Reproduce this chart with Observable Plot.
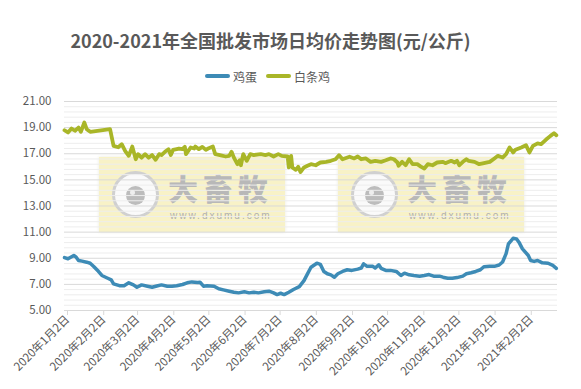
<!DOCTYPE html>
<html><head><meta charset="utf-8">
<script src="https://cdn.jsdelivr.net/npm/d3@7"></script>
<script src="https://cdn.jsdelivr.net/npm/@observablehq/plot@0.6"></script>
<style>
body{margin:0;background:#fff;}
#wrap{position:relative;width:581px;height:389px;overflow:hidden;font-family:"Noto Sans CJK SC","Noto Sans",sans-serif;background:#fff;}
#title{position:absolute;left:0;width:541px;top:28px;line-height:24px;text-align:center;font-size:18px;font-weight:bold;color:#595959;white-space:nowrap;}
#legend{position:absolute;left:205px;top:67px;height:18px;display:flex;align-items:center;font-size:12px;color:#595959;white-space:nowrap;}
.sw{display:inline-block;width:25px;height:4px;border-radius:2px;margin-right:3px;}
.item{display:flex;align-items:center;margin-right:9px;}
.wm{position:absolute;width:186px;height:75px;background:rgba(246,238,180,0.75);box-shadow:0 0 3px rgba(220,220,200,0.6);}
.ring{position:absolute;left:13px;top:14px;width:47px;height:47px;box-sizing:border-box;border:3px solid #d0d0d0;border-radius:50%;background:#fafafa;}
.dot{position:absolute;left:11px;top:12px;width:19px;height:19px;border-radius:50%;background:#bcbcbc;}
.hl{position:absolute;left:4px;top:4px;width:5px;height:5px;border-radius:50%;background:#eee;}
.big{position:absolute;left:69px;top:15px;font-size:30px;line-height:30px;height:30px;font-weight:900;letter-spacing:5px;color:#b8b8b8;white-space:nowrap;}
.url{position:absolute;left:71px;top:53px;font-family:"Liberation Sans",Arial,sans-serif;font-size:10px;line-height:12px;letter-spacing:2px;color:#b0b0b0;white-space:nowrap;}
#chart{position:absolute;left:0;top:0;}
</style></head>
<body>
<div id="wrap">
  <div class="wm" style="left:99px;top:157px"><div class="ring"><div class="dot"><div class="hl"></div></div></div><div class="big">大畜牧</div><div class="url">www.dxumu.com</div></div>
  <div class="wm" style="left:338px;top:157px"><div class="ring"><div class="dot"><div class="hl"></div></div></div><div class="big">大畜牧</div><div class="url">www.dxumu.com</div></div>
  <div id="chart"></div>
  <div id="title"></div>
  <div id="legend"></div>
</div>
<script>
const titleText = "2020-2021年全国批发市场日均价走势图(元/公斤)";
const seriesNames = ["鸡蛋", "白条鸡"];
const seriesColors = ["#3d8bb6", "#a9b628"];

const yTicks = [5, 7, 9, 11, 13, 15, 17, 19, 21];
const xTicks = ["2020-01-02","2020-02-02","2020-03-02","2020-04-02","2020-05-02","2020-06-02","2020-07-02","2020-08-02","2020-09-02","2020-10-02","2020-11-02","2020-12-02","2021-01-02","2021-02-02"];
const xTickLabels = ["2020年1月2日","2020年2月2日","2020年3月2日","2020年4月2日","2020年5月2日","2020年6月2日","2020年7月2日","2020年8月2日","2020年9月2日","2020年10月2日","2020年11月2日","2020年12月2日","2021年1月2日","2021年2月2日"];

const eggDates = ["2020-01-02","2020-01-05","2020-01-10","2020-01-12","2020-01-14","2020-01-17","2020-01-21","2020-01-24","2020-01-27","2020-01-31","2020-02-03","2020-02-08","2020-02-11","2020-02-13","2020-02-18","2020-02-22","2020-02-26","2020-03-01","2020-03-04","2020-03-08","2020-03-13","2020-03-17","2020-03-21","2020-03-25","2020-03-30","2020-04-03","2020-04-07","2020-04-12","2020-04-16","2020-04-20","2020-04-25","2020-04-27","2020-04-30","2020-05-03","2020-05-09","2020-05-13","2020-05-17","2020-05-22","2020-05-26","2020-05-30","2020-06-04","2020-06-08","2020-06-12","2020-06-16","2020-06-21","2020-06-25","2020-06-29","2020-07-02","2020-07-05","2020-07-08","2020-07-12","2020-07-16","2020-07-21","2020-07-25","2020-07-28","2020-07-31","2020-08-05","2020-08-08","2020-08-11","2020-08-14","2020-08-17","2020-08-20","2020-08-23","2020-08-27","2020-08-31","2020-09-04","2020-09-09","2020-09-12","2020-09-14","2020-09-17","2020-09-22","2020-09-24","2020-09-27","2020-09-29","2020-10-03","2020-10-07","2020-10-12","2020-10-16","2020-10-19","2020-10-23","2020-10-27","2020-11-01","2020-11-05","2020-11-09","2020-11-13","2020-11-18","2020-11-21","2020-11-25","2020-11-29","2020-12-03","2020-12-08","2020-12-11","2020-12-15","2020-12-19","2020-12-23","2020-12-26","2020-12-31","2021-01-04","2021-01-08","2021-01-11","2021-01-14","2021-01-16","2021-01-20","2021-01-23","2021-01-25","2021-01-28","2021-02-02","2021-02-04","2021-02-07","2021-02-10","2021-02-14","2021-02-19","2021-02-23","2021-02-26"];
const eggValues = [9.05,8.96,9.21,9.08,8.83,8.78,8.70,8.62,8.37,8.00,7.68,7.47,7.35,7.04,6.90,6.90,7.12,6.96,6.78,6.96,6.86,6.78,6.88,6.96,6.86,6.86,6.90,6.99,7.12,7.19,7.14,7.16,6.86,6.90,6.86,6.66,6.58,6.48,6.40,6.35,6.43,6.35,6.40,6.35,6.43,6.48,6.35,6.22,6.32,6.22,6.40,6.61,6.83,7.29,7.80,8.31,8.62,8.53,7.99,7.81,7.73,7.55,7.81,7.99,8.12,8.07,8.17,8.25,8.57,8.38,8.38,8.25,8.50,8.23,8.07,8.07,7.99,7.68,7.86,7.73,7.68,7.63,7.68,7.75,7.63,7.63,7.55,7.47,7.47,7.52,7.63,7.81,7.89,7.99,8.12,8.35,8.38,8.38,8.48,8.71,9.35,10.10,10.53,10.48,10.23,9.72,9.21,8.83,8.76,8.83,8.65,8.62,8.45,8.23];

const chickenDates = ["2020-01-02","2020-01-05","2020-01-08","2020-01-11","2020-01-14","2020-01-16","2020-01-19","2020-01-21","2020-01-24","2020-02-10","2020-02-13","2020-02-17","2020-02-20","2020-02-23","2020-02-26","2020-02-29","2020-03-03","2020-03-05","2020-03-08","2020-03-11","2020-03-14","2020-03-17","2020-03-20","2020-03-23","2020-03-25","2020-03-28","2020-03-31","2020-04-02","2020-04-04","2020-04-09","2020-04-12","2020-04-14","2020-04-15","2020-04-19","2020-04-22","2020-04-23","2020-04-26","2020-04-29","2020-05-02","2020-05-04","2020-05-08","2020-05-10","2020-05-14","2020-05-19","2020-05-22","2020-05-24","2020-05-26","2020-05-29","2020-05-31","2020-06-01","2020-06-03","2020-06-06","2020-06-09","2020-06-12","2020-06-18","2020-06-22","2020-06-25","2020-06-29","2020-07-03","2020-07-06","2020-07-11","2020-07-12","2020-07-14","2020-07-15","2020-07-18","2020-07-20","2020-07-22","2020-07-25","2020-07-28","2020-07-31","2020-08-04","2020-08-08","2020-08-13","2020-08-17","2020-08-21","2020-08-24","2020-08-27","2020-09-02","2020-09-06","2020-09-09","2020-09-12","2020-09-16","2020-09-20","2020-09-24","2020-09-29","2020-10-03","2020-10-07","2020-10-10","2020-10-13","2020-10-14","2020-10-17","2020-10-20","2020-10-23","2020-10-26","2020-10-30","2020-11-02","2020-11-05","2020-11-08","2020-11-12","2020-11-16","2020-11-21","2020-11-23","2020-11-28","2020-12-01","2020-12-03","2020-12-05","2020-12-08","2020-12-11","2020-12-13","2020-12-18","2020-12-22","2020-12-26","2020-12-31","2021-01-04","2021-01-07","2021-01-11","2021-01-14","2021-01-17","2021-01-20","2021-01-22","2021-01-27","2021-01-31","2021-02-03","2021-02-06","2021-02-10","2021-02-13","2021-02-17","2021-02-21","2021-02-24","2021-02-26"];
const chickenValues = [18.80,18.63,18.93,18.76,19.00,18.68,19.39,18.88,18.68,18.88,17.60,17.50,17.73,17.20,16.84,17.55,16.58,16.97,16.70,16.97,16.70,16.90,16.54,16.97,16.90,17.15,17.35,16.90,17.30,17.40,17.35,17.53,16.97,17.48,17.40,17.55,17.35,17.53,17.30,17.40,17.55,16.97,16.90,16.79,16.84,17.15,16.70,16.20,16.50,16.12,16.97,16.46,16.97,16.90,16.97,16.90,16.97,16.79,16.97,16.84,16.79,15.95,16.84,15.95,15.77,16.00,15.60,15.95,16.08,16.20,16.12,16.33,16.38,16.46,16.58,16.89,16.58,16.77,16.64,16.79,16.58,16.64,16.38,16.46,16.38,16.50,16.64,16.58,16.33,16.08,16.38,16.12,16.58,16.20,16.20,16.02,15.87,16.20,16.12,16.33,16.38,16.28,16.46,16.33,16.46,16.12,16.38,16.58,16.46,16.38,16.20,16.28,16.38,16.64,16.84,16.71,16.97,17.48,17.10,17.30,17.48,17.66,17.10,17.60,17.80,17.73,18.07,18.37,18.57,18.42];

const toRows = (dates, values, name) => dates.map((d, i) => ({date: new Date(d), value: values[i], series: name}));
const egg = toRows(eggDates, eggValues, seriesNames[0]);
const chicken = toRows(chickenDates, chickenValues, seriesNames[1]);

const minorTicks = d3.range(0, 41).map(i => 5 + i * 0.4).filter(v => Math.abs((v - 5) / 2 - Math.round((v - 5) / 2)) > 1e-6);
const labelMap = new Map(xTicks.map((t, i) => [+new Date(t), xTickLabels[i]]));
const xTickDates = xTicks.map(t => new Date(t));

document.getElementById("title").textContent = titleText;
const legend = document.getElementById("legend");
seriesNames.forEach((n, i) => {
  const it = document.createElement("div"); it.className = "item";
  const sw = document.createElement("span"); sw.className = "sw"; sw.style.background = seriesColors[i];
  const tx = document.createElement("span"); tx.textContent = n;
  it.appendChild(sw); it.appendChild(tx); legend.appendChild(it);
});

const chart = Plot.plot({
  width: 581,
  height: 389,
  marginTop: 101,
  marginBottom: 79,
  marginLeft: 64,
  marginRight: 24,
  style: {background: "transparent", fontFamily: "'Noto Sans CJK SC', sans-serif", fontSize: "11px", color: "#595959"},
  x: {type: "utc", domain: [new Date("2020-01-02"), new Date("2021-02-27")], label: null},
  y: {domain: [5, 21], label: null},
  marks: [
    Plot.ruleY(minorTicks, {stroke: "#ededed", strokeWidth: 1}),
    Plot.ruleY(yTicks, {stroke: "#d9d9d9", strokeWidth: 1}),
    Plot.axisY(yTicks, {tickSize: 0, tickPadding: 13, tickFormat: d => d.toFixed(2), fill: "#595959", fontSize: 11.5, label: null}),
    Plot.axisX(xTickDates, {tickSize: 5, stroke: "#d9d9d9", tickPadding: 2, tickRotate: -45, textAnchor: "end", lineAnchor: "middle", dx: 3, dy: 0, tickFormat: d => labelMap.get(+d), fill: "#595959", fontSize: 11.5, label: null}),
    Plot.line(egg, {x: "date", y: "value", stroke: seriesColors[0], strokeWidth: 3.5, strokeLinejoin: "round", strokeLinecap: "round"}),
    Plot.line(chicken, {x: "date", y: "value", stroke: seriesColors[1], strokeWidth: 3.8, strokeLinejoin: "round", strokeLinecap: "round"})
  ]
});
document.getElementById("chart").appendChild(chart);
</script>
</body></html>
